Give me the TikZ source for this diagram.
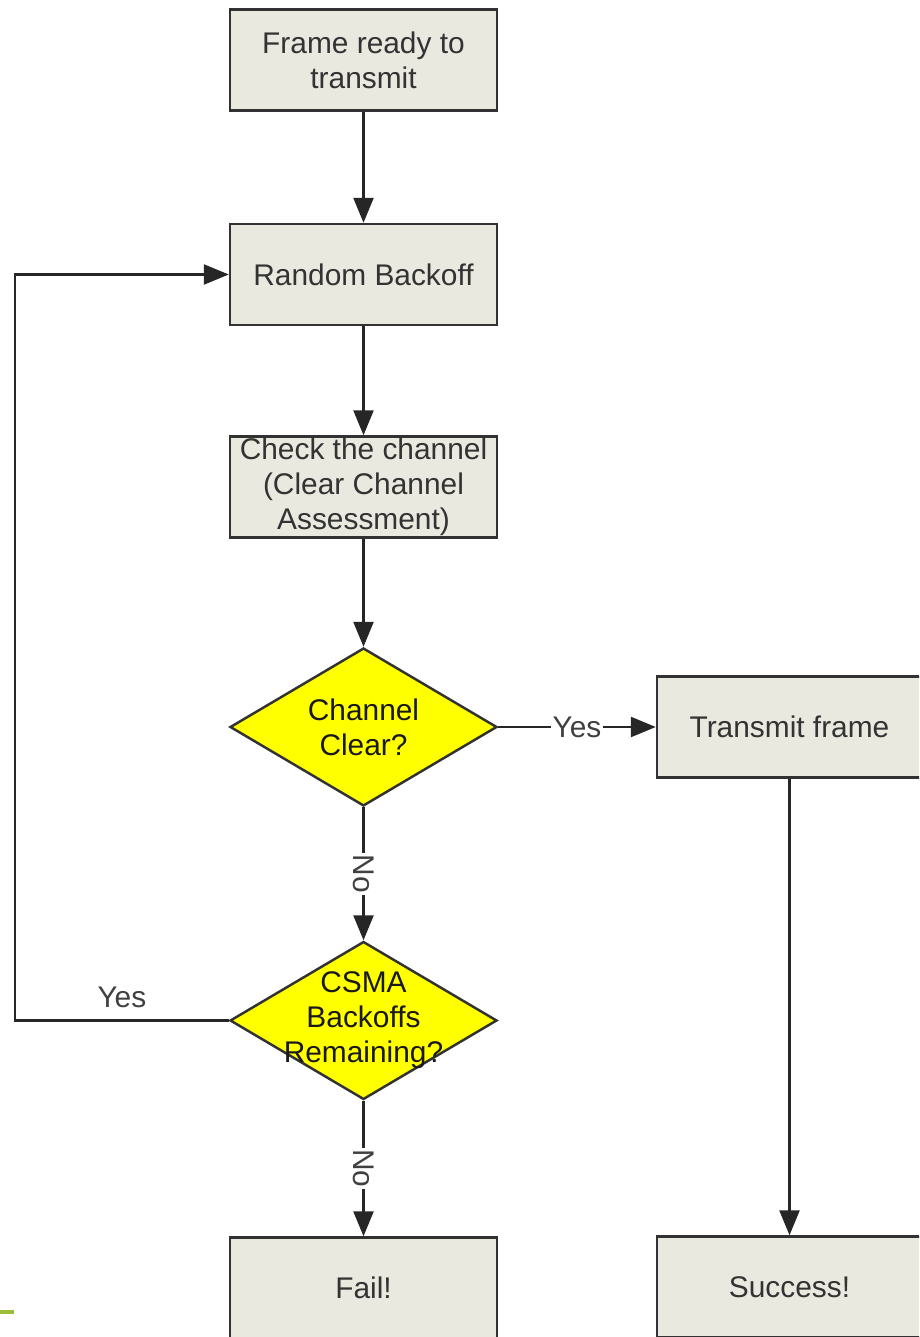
\documentclass[tikz,border=0pt]{standalone}
\usepackage{fontspec}
\setmainfont{Liberation Sans}
\usetikzlibrary{positioning,shapes.geometric,arrows.meta}
\definecolor{boxfill}{RGB}{233,233,223}
\definecolor{boxline}{RGB}{50,50,50}
\definecolor{decide}{RGB}{255,255,0}
\definecolor{stripe}{RGB}{155,187,59}
\tikzset{line/.style={draw=black!85, line width=1.4pt, -{Triangle[length=5mm,width=4mm]}}}

\begin{document}
\begin{tikzpicture}[font=\fontsize{17}{20}\selectfont,
  main/.style = {draw=boxline, fill=boxfill, line width=1.4pt, minimum width=5.34cm, minimum height=2.02cm, inner sep=0pt, align=center, text=black!80},
  test/.style = {draw=boxline, fill=decide, line width=1.4pt, diamond, minimum width=5.34cm, minimum height=3.16cm, inner sep=0pt},
  tag/.style = {fill=white, inner sep=1pt, text=black!75}]
\clip (0,0) rectangle (18.38,-26.74);
\node[main] (1) at (7.27,-1.2) {Frame ready to\\transmit};
\node[main] (2) [below of=1, node distance=4.29cm] {Random Backoff};
\node[main] (3) [below of=2, node distance=4.25cm] {Check the channel\\(Clear Channel\\Assessment)};
\node[test, label={[align=center, text=black!90]center:{Channel\\Clear?}}] (4) [below of=3, node distance=4.8cm] {};
\node[main, minimum width=5.3cm] (5) [right of=4, node distance=8.52cm] {Transmit frame};
\node[test, label={[align=center, text=black!90]center:{CSMA\\Backoffs\\Remaining?}}] (6) [below of=4, node distance=5.87cm] {};
\node[main] (7) [below of=6, node distance=5.35cm] {Fail!};
\node[main, minimum width=5.3cm] (8) [below of=5, node distance=11.2cm] {Success!};
\coordinate (9) at (0.3,0);
\draw[line] (1) -- (2);
\draw[line] (2) -- (3);
\draw[line] (3) -- (4);
\draw[line] (4) -- node[tag] {Yes} (5);
\draw[line] (4) -- node[tag, rotate=-90] {No} (6);
\draw[line] (6) -- node[tag, rotate=-90] {No} (7);
\draw[line] (5) -- (8);
\draw[line] (6.west) -- node[above, yshift=3pt, text=black!75] {Yes} (6.west -| 9) -- (2.west -| 9) -- (2.west);
\draw[stripe, line width=2.5pt] (0,-26.24) -- (0.28,-26.24);
\end{tikzpicture}
\end{document}
